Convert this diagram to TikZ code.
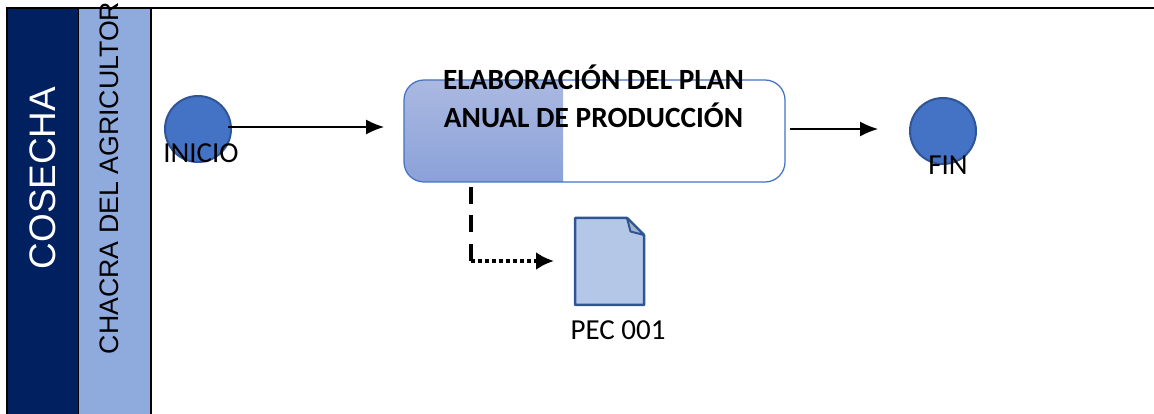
\documentclass[tikz,border=0pt]{standalone}
\usepackage{fontspec}
\setmainfont{Carlito}
\setsansfont{Liberation Sans}
\usetikzlibrary{arrows.meta}
\definecolor{lanedark}{HTML}{002060}
\definecolor{lanelight}{HTML}{8FAADC}
\definecolor{eventblue}{HTML}{4472C4}
\definecolor{eventedge}{HTML}{2F5597}
\definecolor{docfill}{HTML}{B4C7E7}
\definecolor{shadetop}{HTML}{ABB9E1}
\definecolor{shadebottom}{HTML}{8AA1D8}
\tikzset{
    event/.style={circle,draw=eventedge,line width=0.4mm,fill=eventblue,minimum size=1.32cm,inner sep=0pt},
    flow/.style={line width=0.25mm,-{Latex[length=0.36cm,width=0.3cm]}},
    lbl/.style={font=\fontsize{16.5}{18}\selectfont,inner sep=0pt,text=black}
}
\begin{document}
\begin{tikzpicture}
        \useasboundingbox (0,0) rectangle (23.08,8.28);

        \draw[line width=0.3mm,fill=lanedark] (0.14,-0.1) rectangle (1.57,8.12);
        \draw[line width=0.3mm,fill=lanelight] (1.57,-0.1) rectangle (3.02,8.12);
        \draw[line width=0.3mm] (3.02,8.12)--(23.08,8.12);

        \node[rotate=90,text=white,font=\sffamily\fontsize{21}{23}\selectfont,inner sep=0pt] (cosecha) at (0.86,4.72) {COSECHA};
        \node[rotate=90,font=\sffamily\fontsize{15.2}{17}\selectfont,inner sep=0pt] (chacra) at (2.19,4.72) {CHACRA DEL AGRICULTOR};

        \node[event] (inicio) at (3.96,5.7) {};
        \node[event] (fin) at (18.86,5.66) {};
        \node[lbl] (inicioText) at (4.02,5.22) {INICIO};
        \node[lbl] (finText) at (18.96,4.97) {FIN};

        % plan box, left part shaded
        \shade[top color=shadetop,bottom color=shadebottom] (11.26,4.64) -- (8.48,4.64) arc (270:180:0.4) -- (8.08,6.28) arc (180:90:0.4) -- (11.26,6.68) -- cycle;
        \node[draw=eventblue,line width=0.25mm,rounded corners=0.4cm,minimum width=7.62cm,minimum height=2.04cm,inner sep=0pt] (plan) at (11.89,5.66) {};
        \node[lbl,font=\bfseries\fontsize{16.7}{18}\selectfont,align=left] (planLine1) at (11.87,6.73) {ELABORACIÓN DEL PLAN};
        \node[lbl,font=\bfseries\fontsize{16.7}{18}\selectfont,align=left] (planLine2) at (11.87,5.98) {ANUAL DE PRODUCCIÓN};

        % document
        \node[minimum width=1.38cm,minimum height=1.74cm,inner sep=0pt,outer sep=0pt] (doc) at (12.19,3.05) {};
        \draw[line join=round,draw=eventedge,line width=0.5mm,fill=docfill] (doc.south west)--(doc.north west)--(12.54,3.92)--(12.88,3.58)--(12.88,2.18)--cycle;
        \draw[line join=round,draw=eventedge,line width=0.4mm,fill=docfill!70!gray] (12.54,3.92)--(12.88,3.58)--(12.61,3.65)--cycle;
        \node[lbl] (docText) at (12.36,1.68) {PEC 001};

        \coordinate (inicioOut) at (4.56,5.74);
        \coordinate (planIn) at (7.68,5.74);
        \coordinate (planOut) at (15.8,5.7);
        \coordinate (finIn) at (17.56,5.7);
        \coordinate (dashTop) at (9.42,4.54);
        \coordinate (dashEnd) at (9.42,3.04);
        \coordinate (docIn) at (11.08,3.06);

        \draw[flow] (inicioOut)--(planIn);
        \draw[flow] (planOut)--(finIn);
        \draw[line width=0.8mm,dash pattern=on 0.34cm off 0.23cm] (dashTop)--(dashEnd);
        \draw[line width=0.85mm,dash pattern=on 0.08cm off 0.06cm,-{Latex[length=0.36cm,width=0.36cm]}] (dashEnd |- docIn)--(docIn);
\end{tikzpicture}
\end{document}
